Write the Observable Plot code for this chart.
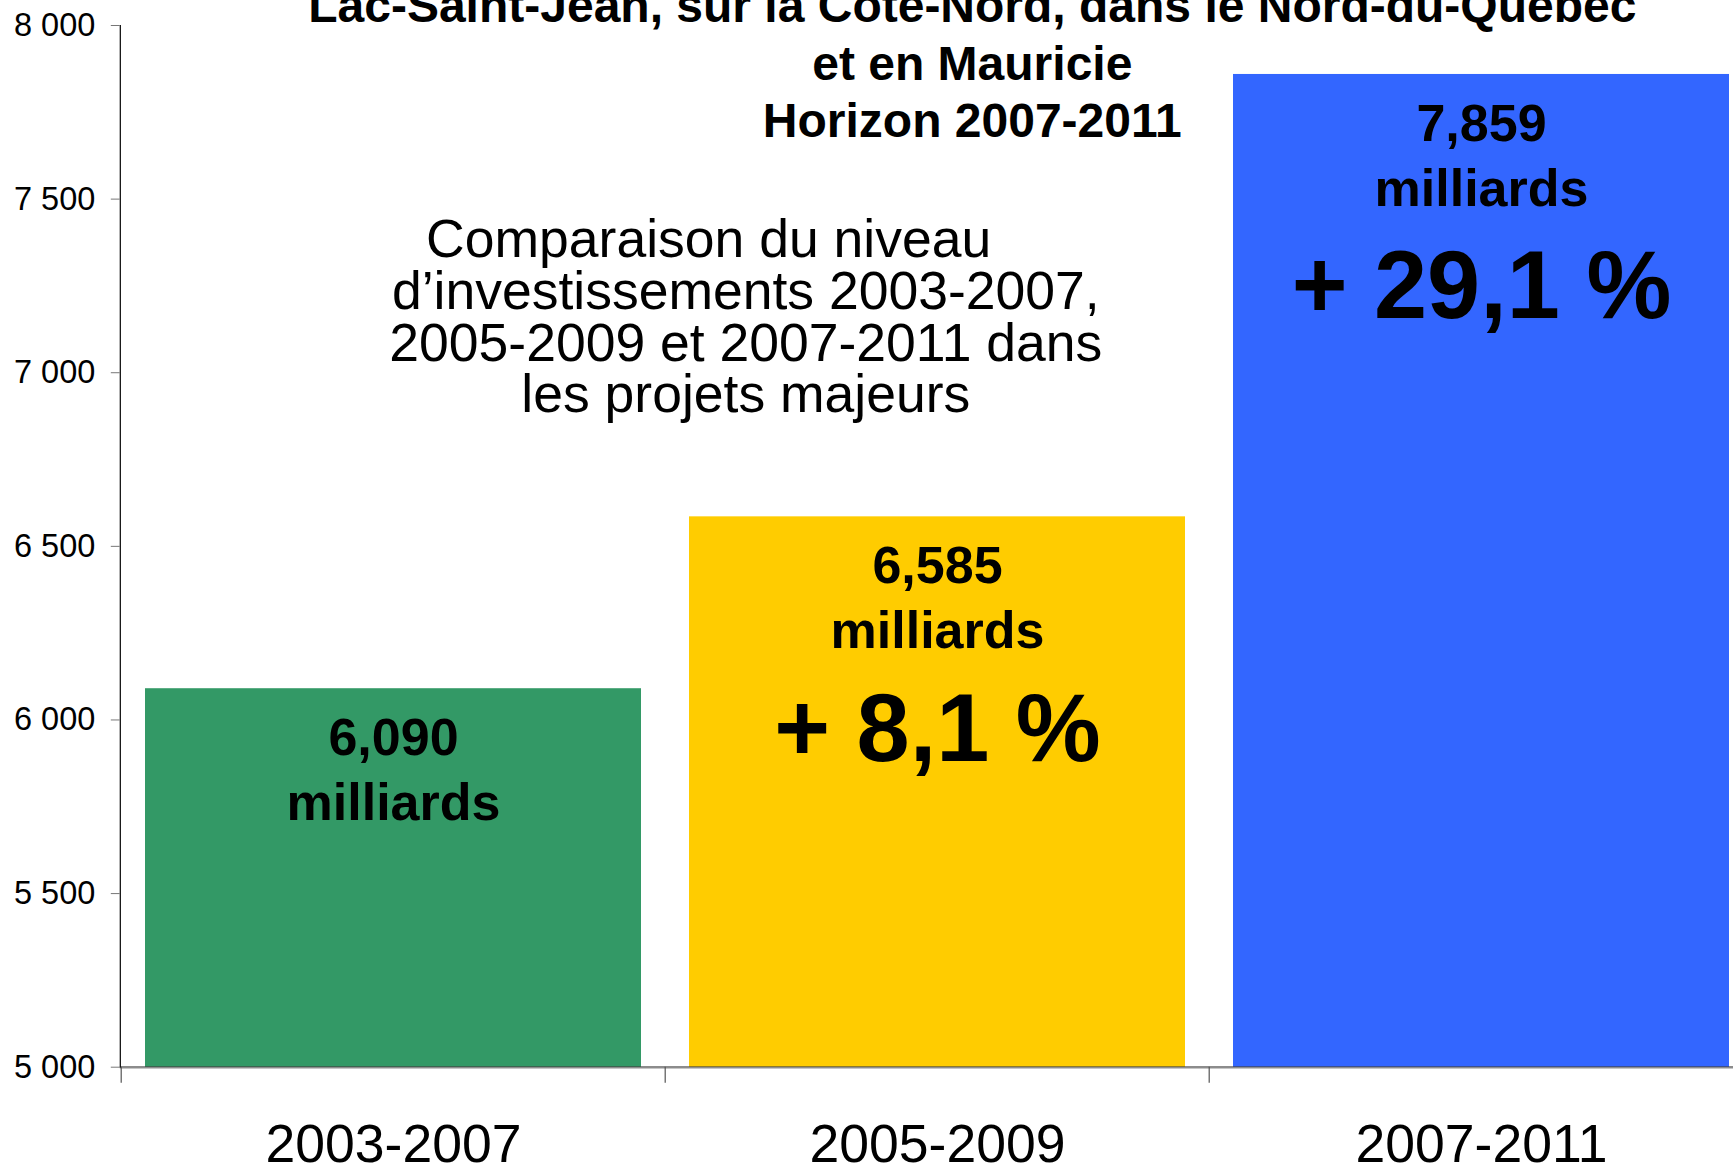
<!DOCTYPE html>
<html>
<head>
<meta charset="utf-8">
<script src="https://cdn.jsdelivr.net/npm/d3@7"></script>
<script src="https://cdn.jsdelivr.net/npm/@observablehq/plot@0.6"></script>
<style>
  html, body { margin: 0; padding: 0; background: #fff; }
  #chart svg { display: block; overflow: hidden; }
</style>
</head>
<body>
<div id="chart"></div>
<script>
// ---- data ----
const periods = ["2003-2007", "2005-2009", "2007-2011"];
const values = [6090, 6585, 7859];
const valueLabels = ["6,090", "6,585", "7,859"];
const growthLabels = ["", "+ 8,1 %", "+ 29,1 %"];
const unitLabel = "milliards";
const barColors = ["#339966", "#FFCC00", "#3366FF"];
const yTicks = [5000, 5500, 6000, 6500, 7000, 7500, 8000];
const titleLines = [
  "Lac-Saint-Jean, sur la Côte-Nord, dans le Nord-du-Québec",
  "et en Mauricie",
  "Horizon 2007-2011"
];
const noteLines = [
  "Comparaison du niveau\u00a0\u00a0\u00a0\u00a0\u00a0",
  "d’investissements 2003-2007,",
  "2005-2009 et 2007-2011 dans",
  "les projets majeurs"
];

const data = periods.map((p, i) => ({
  period: p,
  value: values[i],
  label: valueLabels[i],
  growth: growthLabels[i],
  color: barColors[i]
}));

// ---- layout ----
const W = 1733, H = 1164;
const yMin = yTicks[0], yMax = yTicks[yTicks.length - 1];
const xRange = [119.8, 1753.6];
const yRange = [1066.7, 25];
const step = (xRange[1] - xRange[0]) / periods.length;
const font = "'Liberation Sans', Arial, Helvetica, sans-serif";

const chart = Plot.plot({
  width: W,
  height: H,
  marginLeft: xRange[0],
  marginRight: 0,
  marginTop: yRange[1],
  marginBottom: H - yRange[0],
  style: { fontFamily: font, background: "#fff", color: "#000" },
  x: { domain: periods, range: xRange, paddingInner: 0.089, paddingOuter: 0.0445, align: 0.5, label: null },
  y: { domain: [yMin, yMax], range: yRange, label: null },
  color: { type: "identity" },
  marks: [
    Plot.barY(data, { x: "period", y1: () => yMin, y2: "value", fill: "color" }),
    Plot.ruleY([yMin], { stroke: "#000", strokeOpacity: 0.45, strokeWidth: 2.5 }),
    Plot.frame({ anchor: "left", stroke: "#000", strokeWidth: 1.2 }),
    Plot.axisY({
      ticks: yTicks,
      tickFormat: d => d3.format(",")(d).replace(",", " "),
      tickSize: 9,
      tickPadding: 16,
      fontSize: 32.5,
      stroke: "#777",
      label: null
    }),
    Plot.axisX({ tickSize: 16, text: null, dx: -step / 2, stroke: "#555", strokeWidth: 1.2, label: null }),
    Plot.axisX({ tickSize: 0, tickPadding: 57, fontSize: 53.5, label: null }),
    Plot.text(data, { x: "period", y: "value", text: "label", dy: 66.5, lineAnchor: "bottom", fontSize: 52, fontWeight: "bold", fill: "#000" }),
    Plot.text(data, { x: "period", y: "value", text: () => unitLabel, dy: 131.5, lineAnchor: "bottom", fontSize: 52, fontWeight: "bold", fill: "#000" }),
    Plot.text(data, { x: "period", y: "value", text: "growth", dy: 244, lineAnchor: "bottom", fontSize: 95.5, fontWeight: "bold", fill: "#000" }),
    Plot.text([titleLines.join("\n")], {
      frameAnchor: "top-left", dx: 852, dy: 111.7, lineAnchor: "bottom",
      lineHeight: 1.198, fontSize: 48, fontWeight: "bold", textAnchor: "middle", fill: "#000"
    }),
    Plot.text([noteLines.join("\n")], {
      frameAnchor: "top-left", dx: 625.5, dy: 386.7, lineAnchor: "bottom",
      lineHeight: 0.966, fontSize: 53.5, textAnchor: "middle", fill: "#000"
    })
  ]
});
document.getElementById("chart").append(chart);
</script>
</body>
</html>
